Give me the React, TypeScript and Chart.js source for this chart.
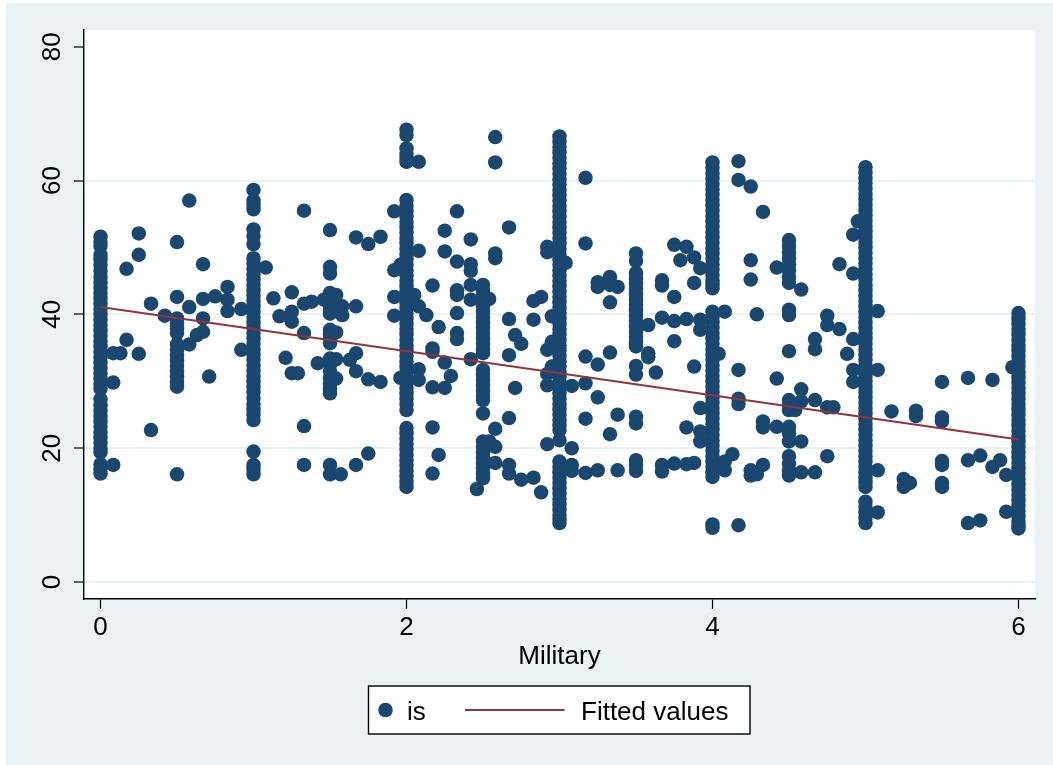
import React, { useEffect, useRef } from "react";
import { Chart, registerables } from "chart.js";

Chart.register(...registerables);

const xTickValues = [0, 2, 4, 6];
const yTickValues = [0, 20, 40, 60, 80];
const xTitle = "Military";
const scatterLabel = "is";
const fitLabel = "Fitted values";

const fitX = [0, 6];
const fitY = [41.1, 21.3];

const isAt0 = [51.6, 50.8, 50.2, 48.9, 48.2, 47.4, 46.5, 45.6, 44.8, 44, 43.2, 42.4, 41.6, 40.8, 40, 39.2, 38.4, 37.6, 36.8, 36, 35.2, 34.4, 33.6, 32.8, 32, 31.2, 30.4, 29.6, 28.9, 27.3, 26.4, 25.6, 24.8, 24, 23.2, 22.4, 21.6, 20.8, 20, 19.4, 17.6, 16.9, 16.2];
const isAt05 = [50.8, 42.6, 39.4, 38.6, 37.9, 37.2, 35.5, 34.7, 33.9, 33.1, 32.3, 31.5, 30.7, 29.9, 29.2, 16.1];
const isAt1 = [58.6, 57, 56.4, 55.7, 52.7, 51.7, 50.5, 48.4, 47.6, 46.8, 46, 45.2, 44.4, 43.6, 42.8, 42, 41.2, 40.4, 39.6, 38.8, 38, 37.2, 36.4, 35.6, 34.8, 34, 33.2, 32.4, 31.6, 30.8, 30, 29.2, 28.4, 27.5, 26.6, 25.8, 25, 24.2, 19.5, 17.5, 16.9, 16.1];
const isAt15 = [52.6, 47.1, 46.1, 43.2, 42.6, 42, 41.4, 40.7, 40.1, 37.7, 37, 36.2, 35.7, 33.4, 32.5, 31.5, 30.5, 29.6, 28.8, 28.2, 17.5, 16.1];
const isAt2 = [67.6, 66.8, 64.8, 64, 63.4, 62.8, 57.1, 56.2, 55.4, 54.6, 53.8, 53, 52.2, 51.4, 50.6, 49.8, 49, 48.2, 47.4, 46.6, 45.8, 45, 44.2, 43.4, 42.6, 41.8, 41, 40.2, 39.4, 38.6, 37.8, 37, 36.2, 35.4, 34.6, 33.8, 33, 32.2, 31.4, 30.6, 29.8, 29, 28.2, 27.4, 26.6, 25.7, 23, 22.2, 21.4, 20.6, 19.8, 19, 18.2, 17.4, 16.6, 15.8, 15, 14.2];
const isAt25 = [44.4, 43.6, 42.8, 42, 41.2, 40.4, 39.6, 38.8, 38, 37.2, 36.4, 35.6, 34.8, 34.2, 31.7, 31, 30.2, 29.4, 28.6, 27.8, 27.2, 25.2, 21, 20.2, 19.4, 18.6, 17.8, 17, 16.2, 15.5];
const isAt3 = [66.6, 65.8, 65, 64.2, 63.4, 62.6, 61.8, 61, 60.2, 59.4, 58.6, 57.8, 57, 56.2, 55.4, 54.6, 53.8, 53, 52.2, 51.4, 50.6, 49.8, 49, 48.2, 47.4, 46.6, 45.8, 45, 44.2, 43.4, 42.6, 41.8, 41, 40.2, 39.4, 38.6, 37.8, 37, 36.2, 35.4, 34.6, 33.8, 33, 32.2, 31.4, 30.6, 29.8, 29, 28.2, 27.4, 26.6, 25.8, 25, 24.2, 23.4, 22.7, 21.2, 18, 17.2, 16.4, 15.6, 14.8, 14, 13.2, 12.4, 11.6, 10.8, 10, 9.4, 8.8];
const isAt35 = [49.1, 48, 46.2, 45.4, 44.6, 43.8, 43, 42.2, 41.4, 40.6, 39.8, 39, 38.2, 37.4, 36.6, 35.8, 35.2, 32.3, 31, 24.7, 23.7, 18.2, 17.4, 16.6];
const isAt4 = [62.7, 61.9, 61.1, 60.3, 59.5, 58.7, 57.9, 57.1, 56.3, 55.5, 54.7, 53.9, 53.1, 52.3, 51.5, 50.7, 49.9, 49.1, 48.3, 47.5, 46.7, 45.9, 45.1, 44.5, 43.9, 40.4, 39.6, 38.8, 38, 37.2, 36.4, 35.6, 34.8, 34, 33.2, 32.4, 31.6, 30.8, 30, 29.2, 28.4, 27.6, 26.8, 26, 25.2, 24.4, 23.6, 22.8, 22, 21.2, 20.4, 19.6, 18.8, 18, 17.2, 16.4, 15.7, 8.6, 8.1];
const isAt45 = [51.1, 50.2, 49.3, 48.4, 47.5, 46.6, 45.6, 44.7, 40.7, 39.9, 34.5, 27.2, 26.4, 25.7, 23.2, 22.2, 21, 18.8, 17.7, 16.7, 15.9];
const isAt5 = [62, 61.2, 60.4, 59.6, 58.8, 58, 57.2, 56.4, 55.6, 54.8, 54, 53.2, 52.4, 51.6, 50.8, 50, 49.2, 48.4, 47.6, 46.8, 46, 45.2, 44.4, 43.6, 42.8, 42, 41.2, 40.4, 39.6, 38.8, 38, 37.2, 36.4, 35.6, 34.8, 34, 33.2, 32.4, 31.6, 30.8, 30, 29.2, 28.4, 27.6, 26.8, 26, 25.2, 24.4, 23.6, 22.8, 22, 21.2, 20.4, 19.6, 18.8, 18, 17.2, 16.4, 15.6, 14.9, 14.2, 12, 11.2, 10.4, 9.6, 8.8];
const isAt6 = [40.2, 39.4, 38.6, 37.8, 37, 36.2, 35.4, 34.6, 33.8, 33, 32.2, 31.4, 30.6, 29.8, 29, 28.2, 27.4, 26.6, 25.8, 25, 24.2, 23.4, 22.6, 21.8, 21, 20.2, 19.4, 18.6, 17.8, 17, 16.2, 15.4, 14.6, 13.8, 13, 12.2, 11.4, 10.6, 9.8, 9, 8.4, 8];

const columnLevels = [0, 0.5, 1, 1.5, 2, 2.5, 3, 3.5, 4, 4.5, 5, 6];
const columnValues = [isAt0, isAt05, isAt1, isAt15, isAt2, isAt25, isAt3, isAt35, isAt4, isAt45, isAt5, isAt6];

const scatteredLevels = [
  0.083, 0.13, 0.17, 0.25, 0.33, 0.42, 0.58, 0.63, 0.67, 0.71, 0.75, 0.83, 0.92,
  1.08, 1.13, 1.17, 1.21, 1.25, 1.29, 1.33, 1.38, 1.42, 1.46, 1.54, 1.57, 1.58, 1.63, 1.67, 1.75, 1.83, 1.92, 1.96,
  2.05, 2.08, 2.13, 2.17, 2.21, 2.25, 2.29, 2.33, 2.42, 2.46, 2.54, 2.58, 2.67, 2.71, 2.75, 2.83, 2.88, 2.92, 2.95,
  3.04, 3.08, 3.17, 3.25, 3.33, 3.38, 3.58, 3.63, 3.67, 3.75, 3.79, 3.83, 3.88, 3.92,
  4.04, 4.08, 4.13, 4.17, 4.25, 4.29, 4.33, 4.42, 4.54, 4.58, 4.67, 4.75, 4.79, 4.83, 4.88, 4.92, 4.95,
  5.08, 5.17, 5.25, 5.29, 5.33, 5.5, 5.67, 5.75, 5.83, 5.88, 5.92, 5.96,
];
const scatteredValues = [
  [34.2, 29.8, 17.5], [34.2], [46.8, 36.2], [52.1, 48.9, 34.1], [41.6, 22.7], [39.8], [57, 41.1, 35.5], [36.9], [47.5, 42.3, 39.4, 37.4], [30.7], [42.7], [44.1, 42.2, 40.5], [40.8, 34.7],
  [47], [42.4], [39.7], [33.5], [43.3, 40.4, 38.9, 31.2], [31.2], [55.5, 41.6, 37.2, 23.3, 17.5], [41.9], [32.7], [42.2], [42.9, 37.3, 33.3, 30.4], [16.1], [41.2, 39.9], [33.2], [51.5, 41.2, 34.2, 31.5, 17.5], [50.5, 30.3, 19.2], [51.6, 29.9], [55.4, 46.6, 42.6, 39.8], [47.4, 30.5],
  [42.9], [62.8, 49.5, 41.2, 31.8, 30.2], [39.9], [44.3, 34.9, 34.4, 29.1, 23.1, 16.2], [38.1, 19], [52.5, 49.4, 32.8, 29], [30.8], [55.4, 47.9, 43.6, 42.9, 40.2, 37.2, 36.3], [51.2, 47.5, 46.5, 44.4, 42.2, 33.3], [13.9], [42.3, 21], [66.5, 62.7, 49.1, 48.4, 22.9, 20.2, 17.8], [53, 39.3, 33.9, 24.5, 17.5, 16.2], [36.9, 29], [35.6, 15.3], [42, 39.2, 15.6], [42.6, 13.4], [50.1, 49.3, 34.7, 31.1, 29.4, 20.6], [39.7, 35.9, 32.2],
  [47.7], [29.3, 20, 17.5, 16.6], [60.4, 50.6, 33.7, 29.7, 24.4, 16.3], [44.8, 44.1, 32.5, 27.6, 16.7], [45.6, 44.4, 41.8, 34.3, 22.1], [44.1, 25, 16.7], [38.4, 34.2, 33.6], [31.3], [45.1, 44.3, 39.5, 17.5, 16.5], [50.4, 42.6, 39, 36, 17.7], [48.1], [50.1, 39.3, 23.1, 17.6], [48.5, 44.7, 32.2, 17.8], [46.9, 39.2, 37.7, 26, 22.5, 21],
  [34.1], [40.4, 18, 16.7], [19.1], [62.9, 60.1, 31.7, 27.4, 26.6, 8.5], [59.1, 48.1, 45.2, 16.7, 15.9], [40, 16.1], [55.3, 24, 23.1, 17.5], [47, 30.4, 23.2], [25.7], [43.7, 28.8, 27, 21, 16.4], [36.3, 34.8, 27.2, 16.4], [39.8, 38.4, 26.1, 18.8], [26.1], [47.5, 37.8], [34.1], [51.9, 46.1, 36.3, 31.7, 29.9], [53.9],
  [40.5, 31.7, 16.7, 10.4], [25.5], [15.4, 14.2], [14.8], [25.6, 24.8], [29.9, 24.6, 24, 18.1, 17.5, 14.8, 14.2], [30.5, 18.2, 8.8], [18.9, 9.2], [30.2, 17.2], [18.2], [16, 10.5], [32.1],
];

const NAVY = "#1a476f";
const MAROON = "#90353b";
const PANEL = "#eaf2f3";
const FONT = '"Liberation Sans", Arial, sans-serif';

const toPoints = (levels: number[], values: number[][]) =>
  levels.flatMap((level, i) => values[i].map((v) => ({ x: level, y: v })));

const framePlugin = {
  id: "statePanel",
  beforeDraw(chart: any) {
    const { ctx, width, height, chartArea: a } = chart;
    ctx.save();
    ctx.fillStyle = "#ffffff";
    ctx.fillRect(0, 0, width, height);
    ctx.fillStyle = PANEL;
    ctx.fillRect(6, 3, width - 6, height - 3);
    ctx.fillStyle = "#ffffff";
    ctx.fillRect(a.left, a.top, a.right - a.left, a.bottom - a.top);
    ctx.restore();
  },
  afterDraw(chart: any) {
    const { ctx } = chart;
    const [dots, fit] = chart.data.datasets;
    ctx.save();
    ctx.fillStyle = "#ffffff";
    ctx.strokeStyle = "#000000";
    ctx.lineWidth = 1.4;
    ctx.fillRect(368.5, 686, 381.5, 48);
    ctx.strokeRect(368.5, 686, 381.5, 48);
    ctx.fillStyle = dots.backgroundColor;
    ctx.beginPath();
    ctx.arc(385.5, 710, 7.25, 0, Math.PI * 2);
    ctx.fill();
    ctx.strokeStyle = fit.borderColor;
    ctx.lineWidth = fit.borderWidth;
    ctx.beginPath();
    ctx.moveTo(465, 710);
    ctx.lineTo(564.5, 710);
    ctx.stroke();
    ctx.fillStyle = "#000000";
    ctx.font = `26px ${FONT}`;
    ctx.textBaseline = "alphabetic";
    ctx.textAlign = "left";
    ctx.fillText(dots.label, 407, 720);
    ctx.fillText(fit.label, 581, 720);
    ctx.restore();
  },
};

export default function App() {
  const ref = useRef<HTMLCanvasElement | null>(null);
  useEffect(() => {
    const chart = new Chart(ref.current as HTMLCanvasElement, {
      type: "scatter",
      plugins: [framePlugin],
      data: {
        datasets: [
          {
            label: scatterLabel,
            data: [...toPoints(columnLevels, columnValues), ...toPoints(scatteredLevels, scatteredValues)],
            backgroundColor: NAVY,
            borderWidth: 0,
            pointRadius: 7.25,
            order: 2,
          },
          {
            label: fitLabel,
            data: fitX.map((x, i) => ({ x, y: fitY[i] })),
            type: "line",
            borderColor: MAROON,
            borderWidth: 2,
            pointRadius: 0,
            order: 1,
          },
        ],
      } as any,
      options: {
        animation: false,
        responsive: false,
        layout: { padding: { left: 0, right: 18, top: 30, bottom: 93 } },
        plugins: { legend: { display: false }, tooltip: { enabled: false } },
        scales: {
          x: {
            type: "linear",
            min: -0.108,
            max: 6.108,
            afterBuildTicks: (s: any) => {
              s.ticks = xTickValues.map((value) => ({ value }));
            },
            afterFit: (s: any) => {
              s.height = 73;
            },
            border: { color: "#000000", width: 1.4 },
            grid: { drawOnChartArea: false, tickColor: "#000000", tickLength: 10, tickWidth: 1.2 },
            ticks: { color: "#000000", font: { family: FONT, size: 26 }, padding: 3, maxRotation: 0, autoSkip: false },
            title: { display: true, text: xTitle, color: "#000000", font: { family: FONT, size: 26 }, padding: 0 },
          },
          y: {
            min: -2.54,
            max: 82.5,
            afterBuildTicks: (s: any) => {
              s.ticks = yTickValues.map((value) => ({ value }));
            },
            afterFit: (s: any) => {
              s.width = 84;
            },
            border: { color: "#000000", width: 1.4 },
            grid: {
              color: (c: any) => (c.tick && c.tick.value === 80 ? "rgba(0,0,0,0)" : PANEL),
              lineWidth: 2,
              tickColor: "#000000",
              tickLength: 10,
              tickWidth: 1.2,
            },
            ticks: {
              color: "#000000",
              font: { family: FONT, size: 26 },
              padding: 6.5,
              minRotation: 90,
              maxRotation: 90,
              crossAlign: "center",
              autoSkip: false,
            },
          },
        },
      },
    } as any);
    return () => chart.destroy();
  }, []);
  return (
    <div style={{ position: "absolute", left: 0, top: 0 }}>
      <canvas ref={ref} width={1053} height={765} style={{ display: "block" }} />
    </div>
  );
}
